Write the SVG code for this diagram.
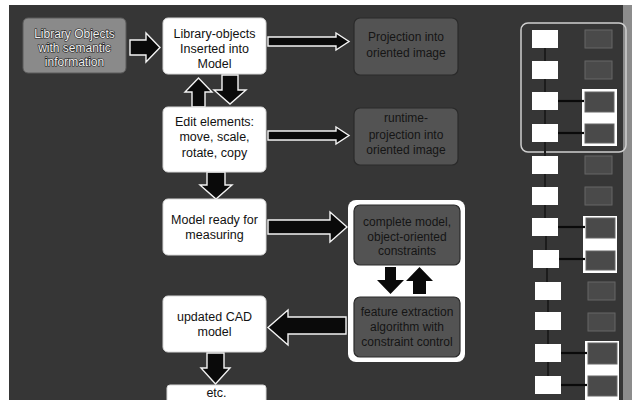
<svg xmlns="http://www.w3.org/2000/svg" width="632" height="400" viewBox="0 0 632 400">
<style>
.wbox{fill:#ffffff;stroke:#d8d8d8;stroke-width:1}
.dbox{fill:#535353;stroke:#2a2a2a;stroke-width:1.2}
.t{font-family:"Liberation Sans",Arial,sans-serif;font-size:12.5px;text-anchor:middle;fill:#111}
.tl{font-family:"Liberation Sans",Arial,sans-serif;font-size:12px;text-anchor:middle;fill:#f2f2f2;stroke:#1a1a1a;stroke-width:1.2;paint-order:stroke}
.td{font-family:"Liberation Sans",Arial,sans-serif;font-size:12px;text-anchor:middle;fill:#151515}
.arr{fill:#0a0a0a;stroke:#f4f4f4;stroke-width:1.4;stroke-linejoin:miter}
.arrb{fill:#0a0a0a}
.ws{fill:#ffffff}
.ds{fill:#4a4a4a;stroke:#666666;stroke-width:1}
.link{stroke:#0a0a0a;stroke-width:2.2}
.vlink{stroke:#1c1c1c;stroke-width:2}
</style>
<rect x="0" y="0" width="632" height="400" fill="#ffffff"/>
<rect x="9" y="5" width="618" height="395" fill="#363636"/>
<rect x="623" y="5" width="9" height="395" fill="#8c8c8c"/>

<g id="connectors">
  <polygon class="arr" points="130,40 146,40 146,33 160,47.5 146,62 146,55 130,55"/>
  <polygon class="arr" points="192,107 192,92 185,92 198.5,78 212,92 205,92 205,107"/>
  <polygon class="arr" points="222,75 238,75 238,90 246,90 230,104 214,90 222,90"/>
  <polygon class="arr" points="207,172 225,172 225,185 232,185 216,199 200,185 207,185"/>
  <polygon class="arr" points="207,353 224,353 224,368 230,368 215.5,384 201,368 207,368"/>
  <polygon class="arr" points="268,37 336,37 336,33 349,41.5 336,50 336,46 268,46"/>
  <polygon class="arr" points="268,131 336,131 336,127 349,135.5 336,144 336,140 268,140"/>
  <polygon class="arr" points="268,220 330,220 330,212 347,227 330,242 330,234 268,234"/>
  <polygon class="arr" points="346,317 288,317 288,310 268,327.5 288,345 288,334 346,334"/>
</g>

<g id="library-objects">
  <rect x="23" y="18" width="103" height="55" rx="5" fill="#8a8a8a" stroke="#5a5a5a" stroke-width="1"/>
  <text class="tl" x="74.5" y="38">Library Objects</text>
  <text class="tl" x="74.5" y="52">with semantic</text>
  <text class="tl" x="74.5" y="66">information</text>
</g>

<g id="inserted-into-model">
  <rect class="wbox" x="163" y="18" width="103" height="56" rx="5"/>
  <text class="t" x="214.5" y="38">Library-objects</text>
  <text class="t" x="214.5" y="53">Inserted into</text>
  <text class="t" x="214.5" y="68">Model</text>
</g>

<g id="edit-elements">
  <rect class="wbox" x="163" y="107" width="103" height="65" rx="5"/>
  <text class="t" x="214.5" y="126">Edit elements:</text>
  <text class="t" x="214.5" y="141">move, scale,</text>
  <text class="t" x="214.5" y="157">rotate, copy</text>
</g>

<g id="model-ready">
  <rect class="wbox" x="163" y="199" width="103" height="56" rx="5"/>
  <text class="t" x="214.5" y="224">Model ready for</text>
  <text class="t" x="214.5" y="239">measuring</text>
</g>

<g id="updated-cad">
  <rect class="wbox" x="163" y="296" width="103" height="56" rx="5"/>
  <text class="t" x="214.5" y="321">updated CAD</text>
  <text class="t" x="214.5" y="336">model</text>
</g>

<g id="etc">
  <rect class="wbox" x="167" y="385" width="99" height="20" rx="3"/>
  <text class="t" x="216.5" y="397">etc.</text>
</g>

<g id="projection">
  <rect class="dbox" x="354" y="18" width="104" height="57" rx="6"/>
  <text class="td" x="406" y="41">Projection into</text>
  <text class="td" x="406" y="57">oriented image</text>
</g>

<g id="runtime-projection">
  <rect class="dbox" x="354" y="108" width="104" height="57" rx="6"/>
  <text class="td" x="406" y="122">runtime-</text>
  <text class="td" x="406" y="139">projection into</text>
  <text class="td" x="406" y="154">oriented image</text>
</g>

<g id="constraint-loop">
  <rect x="348" y="200" width="117" height="162" rx="8" fill="#ffffff"/>
  <g id="complete-model">
    <rect class="dbox" x="354" y="205" width="106" height="60" rx="6"/>
    <text class="td" x="407" y="226">complete model,</text>
    <text class="td" x="407" y="241">object-oriented</text>
    <text class="td" x="407" y="255">constraints</text>
  </g>
  <polygon class="arrb" points="385,267 396,267 396,280 404,280 390.5,294 377,280 385,280"/>
  <polygon class="arrb" points="413,294 413,281 406,281 419.5,267 433,281 426,281 426,294"/>
  <g id="feature-extraction">
    <rect class="dbox" x="354" y="297" width="106" height="60" rx="6"/>
    <text class="td" x="407" y="316">feature extraction</text>
    <text class="td" x="407" y="331">algorithm with</text>
    <text class="td" x="407" y="346">constraint control</text>
  </g>
</g>

<g id="strip">
  <rect x="521" y="23" width="105" height="129" rx="7" fill="none" stroke="#cfcfcf" stroke-width="1.5"/>
  <rect x="582" y="89" width="35" height="57" fill="#ffffff"/>
  <rect x="583" y="216" width="34" height="57" fill="#ffffff"/>
  <rect x="585" y="341" width="34" height="59" fill="#ffffff"/>
  <g>
    <line class="vlink" x1="545" y1="48" x2="545" y2="61"/>
    <line class="vlink" x1="545" y1="79" x2="545" y2="92"/>
    <line class="vlink" x1="545" y1="110" x2="545" y2="124"/>
    <line class="vlink" x1="545" y1="142" x2="545" y2="156"/>
    <line class="vlink" x1="545" y1="174" x2="545" y2="187"/>
    <line class="vlink" x1="545" y1="205" x2="545" y2="218"/>
    <line class="vlink" x1="546" y1="236" x2="546" y2="250"/>
    <line class="vlink" x1="547" y1="268" x2="547" y2="282"/>
    <line class="vlink" x1="548" y1="300" x2="548" y2="312"/>
    <line class="vlink" x1="548" y1="330" x2="548" y2="344"/>
    <line class="vlink" x1="548" y1="362" x2="548" y2="376"/>
    <line class="link" x1="558" y1="101" x2="584" y2="101"/>
    <line class="link" x1="558" y1="133" x2="584" y2="133"/>
    <line class="link" x1="558" y1="227" x2="585" y2="227"/>
    <line class="link" x1="558" y1="259" x2="585" y2="259"/>
    <line class="link" x1="561" y1="353" x2="587" y2="353"/>
    <line class="link" x1="561" y1="385" x2="587" y2="385"/>
  </g>
  <rect class="ws" x="532" y="30" width="26" height="18"/>
  <rect class="ws" x="532" y="61" width="26" height="18"/>
  <rect class="ws" x="532" y="92" width="26" height="18"/>
  <rect class="ws" x="532" y="124" width="26" height="18"/>
  <rect class="ws" x="532" y="156" width="26" height="18"/>
  <rect class="ws" x="532" y="187" width="26" height="18"/>
  <rect class="ws" x="532" y="218" width="26" height="18"/>
  <rect class="ws" x="533" y="250" width="26" height="18"/>
  <rect class="ws" x="535" y="282" width="26" height="18"/>
  <rect class="ws" x="535" y="312" width="26" height="18"/>
  <rect class="ws" x="535" y="344" width="26" height="18"/>
  <rect class="ws" x="535" y="376" width="26" height="18"/>
  <rect class="ds" x="585" y="30" width="27" height="18"/>
  <rect class="ds" x="585" y="61" width="27" height="18"/>
  <rect class="ds" x="585" y="92" width="29" height="20"/>
  <rect class="ds" x="585" y="124" width="29" height="19"/>
  <rect class="ds" x="585" y="156" width="27" height="18"/>
  <rect class="ds" x="585" y="187" width="27" height="18"/>
  <rect class="ds" x="586" y="218" width="29" height="20"/>
  <rect class="ds" x="586" y="251" width="29" height="19"/>
  <rect class="ds" x="588" y="282" width="27" height="18"/>
  <rect class="ds" x="588" y="313" width="27" height="18"/>
  <rect class="ds" x="588" y="343" width="29" height="21"/>
  <rect class="ds" x="588" y="376" width="29" height="20"/>
</g>
</svg>
